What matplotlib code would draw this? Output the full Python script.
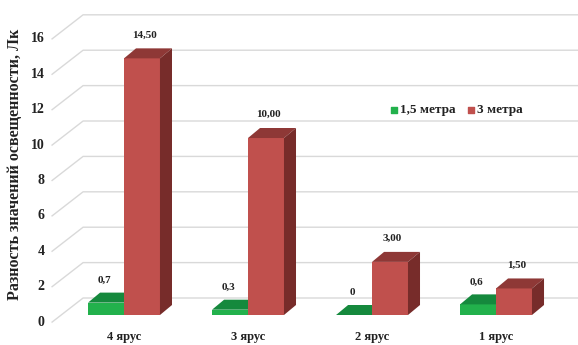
import matplotlib.pyplot as plt
from matplotlib.patches import Polygon

categories = ["4 ярус", "3 ярус", "2 ярус", "1 ярус"]
vals_15 = [0.7, 0.3, 0.0, 0.6]
vals_3 = [14.5, 10.0, 3.0, 1.5]
series_names = ["1,5 метра", "3 метра"]
yticks = [0, 2, 4, 6, 8, 10, 12, 14, 16]

plt.rcParams["font.family"] = ["Liberation Serif", "DejaVu Serif"]
plt.rcParams["font.weight"] = "bold"

fig = plt.figure(figsize=(5.78, 3.45), dpi=100)
ax = fig.add_axes([0, 0, 1, 1])
ax.set_xlim(-1.0, 3.661)
ax.set_ylim(-1.695, 17.797)
ax.axis("off")

# depth offsets (data units)
bdx, bdy = 0.097, 0.565      # bar depth
wx0, wx1 = -0.58, -0.33      # floor front / back wall x
wdy0, wdy1 = -0.4, 0.96      # y offsets front / back
grid_c = "#d9d9d9"

for g in yticks:
    ax.plot([wx0, wx1, 3.661], [g + wdy0, g + wdy1, g + wdy1],
            color=grid_c, lw=1.0, zorder=1)
    ax.text(wx0 - 0.06, g + wdy0, str(g), ha="right", va="center",
            fontsize=10, color="#222222")

w = 0.29
styles = [
    ("#22B14C", "#15893D", "#10702F"),
    ("#C0504D", "#8E3836", "#772C2A"),
]


def draw_bar(x0, h, cols, z):
    front, top, side = cols
    x1 = x0 + w
    ax.add_patch(Polygon([(x0, 0), (x1, 0), (x1, h), (x0, h)],
                         closed=True, fc=front, ec="none", zorder=z))
    ax.add_patch(Polygon([(x0, h), (x1, h), (x1 + bdx, h + bdy), (x0 + bdx, h + bdy)],
                         closed=True, fc=top, ec="none", zorder=z))
    ax.add_patch(Polygon([(x1, 0), (x1 + bdx, bdy), (x1 + bdx, h + bdy), (x1, h)],
                         closed=True, fc=side, ec="none", zorder=z))


def fmt15(v):
    return "0" if v == 0 else f"{v:.1f}".replace(".", ",")


for i, cat in enumerate(categories):
    draw_bar(i - w, vals_15[i], styles[0], 3)
    draw_bar(i, vals_3[i], styles[1], 4)
    ax.text(i - w / 2 - 0.01, vals_15[i] + bdy + 0.7, fmt15(vals_15[i]),
            ha="center", va="center", fontsize=8, color="#222222")
    ax.text(i + w / 2 + 0.02, vals_3[i] + bdy + 0.75, f"{vals_3[i]:.2f}".replace(".", ","),
            ha="center", va="center", fontsize=8, color="#222222")
    ax.text(i, -1.25, cat, ha="center", va="center", fontsize=9, color="#222222")

ax.text(-0.88, 8.5, "Разность значений освещенности, Лк", rotation=90,
        ha="center", va="center", fontsize=11.5, color="#222222")

# legend
lx, ly = 2.18, 11.6
for k, name in enumerate(series_names):
    xx = lx + k * 0.62
    ax.scatter([xx], [ly], marker="s", s=22, color=styles[k][0], zorder=5)
    ax.text(xx + 0.045, ly, name, ha="left", va="center", fontsize=9.5, color="#222222")

fig.savefig("out.png", dpi=100, facecolor="white")
